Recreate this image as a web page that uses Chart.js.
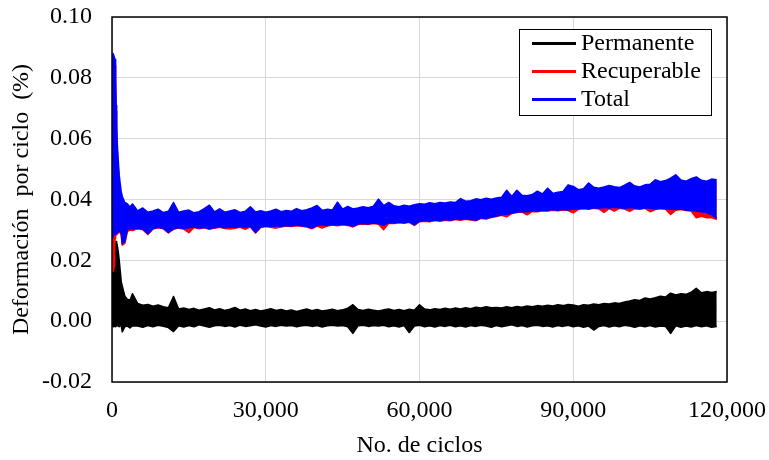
<!DOCTYPE html>
<html><head><meta charset="utf-8">
<script src="https://cdn.jsdelivr.net/npm/chart.js@4.4.0/dist/chart.umd.min.js"></script>
<style>html,body{margin:0;padding:0;background:#fff;}#wrap{width:769px;height:460px;}</style>
</head><body><div id="wrap"><canvas id="c" width="769" height="460"></canvas></div>
<script>
// ---- data ----
const cycles = [0,100,200,300,400,500,600,700,800,900,1000,1200,1400,1600,1800,2000,2500,3000,3500,4000,
5000,6000,7000,8000,9000,10000,11000,12000,13000,14000,
15000,16000,17000,18000,19000,20000,21000,22000,23000,24000,
25000,26000,27000,28000,29000,30000,31000,32000,33000,34000,
35000,36000,37000,38000,39000,40000,41000,42000,43000,44000,
45000,46000,47000,48000,49000,50000,51000,52000,53000,54000,
55000,56000,57000,58000,59000,60000,61000,62000,63000,64000,
65000,66000,67000,68000,69000,70000,71000,72000,73000,74000,
75000,76000,77000,78000,79000,80000,81000,82000,83000,84000,
85000,86000,87000,88000,89000,90000,91000,92000,93000,94000,
95000,96000,97000,98000,99000,100000,101000,102000,103000,104000,
105000,106000,107000,108000,109000,110000,111000,112000,113000,114000,
115000,116000,117000,118000];

// Total (upper / lower envelope of the band)
const totalHigh = [0.060,0.086,0.088,0.088,0.087,0.087,0.086,0.080,0.071,0.065,0.059,0.053,0.048,0.045,0.0425,0.041,0.039,0.0385,0.0375,0.0385,
0.0362,0.0372,0.0358,0.0362,0.0368,0.0357,0.0361,0.0390,0.0358,0.0362,
0.0365,0.0356,0.0360,0.0370,0.0381,0.0359,0.0369,0.0358,0.0362,0.0366,
0.0357,0.0361,0.0376,0.0359,0.0363,0.0358,0.0362,0.0368,0.0360,0.0364,
0.0361,0.0370,0.0363,0.0366,0.0372,0.0380,0.0364,0.0368,0.0365,0.0391,
0.0368,0.0377,0.0369,0.0372,0.0376,0.0373,0.0378,0.0401,0.0380,0.0390,
0.0379,0.0376,0.0381,0.0378,0.0383,0.0386,0.0384,0.0389,0.0386,0.0390,
0.0388,0.0392,0.0390,0.0403,0.0394,0.0396,0.0402,0.0399,0.0404,0.0401,
0.0405,0.0407,0.0430,0.0410,0.0430,0.0414,0.0412,0.0416,0.0427,0.0418,
0.0437,0.0420,0.0424,0.0426,0.0448,0.0443,0.0432,0.0435,0.0454,0.0440,
0.0437,0.0441,0.0446,0.0442,0.0439,0.0447,0.0456,0.0444,0.0441,0.0448,
0.0450,0.0465,0.0458,0.0462,0.0470,0.0481,0.0464,0.0460,0.0468,0.0474,
0.0463,0.0460,0.0467,0.0465];
const totalLow = [0.0270,0.0275,0.0282,0.0284,0.0285,0.0288,0.0285,0.0290,0.0288,0.0292,0.0290,0.0294,0.0298,0.0295,0.0290,0.0255,0.0262,0.0300,0.0305,0.0303,
0.0306,0.0303,0.0288,0.0305,0.0309,0.0306,0.0292,0.0304,0.0308,0.0305,
0.0307,0.0310,0.0306,0.0309,0.0304,0.0308,0.0311,0.0307,0.0310,0.0308,
0.0311,0.0309,0.0312,0.0292,0.0310,0.0313,0.0311,0.0314,0.0312,0.0315,
0.0313,0.0316,0.0314,0.0312,0.0306,0.0315,0.0317,0.0315,0.0318,0.0316,
0.0319,0.0317,0.0312,0.0320,0.0322,0.0320,0.0323,0.0321,0.0315,0.0324,
0.0323,0.0326,0.0324,0.0327,0.0317,0.0329,0.0331,0.0329,0.0333,0.0331,
0.0334,0.0332,0.0336,0.0334,0.0337,0.0335,0.0332,0.0340,0.0338,0.0343,
0.0346,0.0350,0.0352,0.0356,0.0359,0.0361,0.0360,0.0363,0.0362,0.0365,
0.0364,0.0367,0.0365,0.0368,0.0366,0.0369,0.0370,0.0372,0.0370,0.0373,
0.0371,0.0374,0.0372,0.0375,0.0373,0.0371,0.0374,0.0372,0.0370,0.0373,
0.0371,0.0369,0.0372,0.0370,0.0368,0.0367,0.0369,0.0366,0.0364,0.0362,
0.0360,0.0357,0.0350,0.0338];

// Recuperable
const recHigh = [0.058,0.084,0.086,0.086,0.085,0.085,0.084,0.078,0.069,0.063,0.057,0.051,0.046,0.043,0.041,0.040,0.038,0.0378,0.0368,0.0376,
0.0356,0.0362,0.0353,0.0357,0.0360,0.0352,0.0356,0.0375,0.0353,0.0357,
0.0358,0.0351,0.0355,0.0362,0.0370,0.0354,0.0361,0.0353,0.0357,0.0360,
0.0352,0.0356,0.0368,0.0354,0.0358,0.0353,0.0357,0.0362,0.0355,0.0359,
0.0356,0.0363,0.0358,0.0361,0.0366,0.0372,0.0359,0.0363,0.0360,0.0378,
0.0363,0.0370,0.0364,0.0367,0.0370,0.0368,0.0372,0.0390,0.0374,0.0382,
0.0374,0.0371,0.0375,0.0373,0.0377,0.0380,0.0379,0.0383,0.0381,0.0384,
0.0383,0.0386,0.0385,0.0394,0.0388,0.0391,0.0395,0.0393,0.0397,0.0395,
0.0399,0.0401,0.0418,0.0404,0.0419,0.0408,0.0406,0.0410,0.0418,0.0412,
0.0426,0.0414,0.0418,0.0420,0.0436,0.0432,0.0426,0.0428,0.0442,0.0433,
0.0431,0.0434,0.0439,0.0435,0.0433,0.0440,0.0445,0.0437,0.0435,0.0441,
0.0443,0.0454,0.0450,0.0453,0.0459,0.0468,0.0455,0.0452,0.0458,0.0463,
0.0455,0.0452,0.0458,0.0456];
const recLow = [0.0163,0.0163,0.0165,0.0168,0.0180,0.0240,0.0272,0.0280,0.0284,0.0286,0.0286,0.0290,0.0293,0.0290,0.0285,0.0250,0.0256,0.0295,0.0300,0.0298,
0.0304,0.0301,0.0285,0.0303,0.0307,0.0304,0.0290,0.0302,0.0306,0.0303,
0.0291,0.0308,0.0304,0.0307,0.0302,0.0306,0.0309,0.0305,0.0303,0.0306,
0.0309,0.0302,0.0310,0.0290,0.0308,0.0311,0.0309,0.0306,0.0310,0.0313,
0.0311,0.0314,0.0312,0.0310,0.0304,0.0313,0.0306,0.0313,0.0316,0.0314,
0.0317,0.0315,0.0310,0.0318,0.0320,0.0318,0.0321,0.0319,0.0301,0.0322,
0.0321,0.0324,0.0322,0.0325,0.0315,0.0327,0.0329,0.0327,0.0331,0.0329,
0.0332,0.0330,0.0334,0.0332,0.0335,0.0333,0.0330,0.0338,0.0336,0.0341,
0.0344,0.0348,0.0343,0.0354,0.0357,0.0359,0.0350,0.0361,0.0360,0.0363,
0.0362,0.0365,0.0363,0.0366,0.0364,0.0356,0.0368,0.0370,0.0368,0.0371,
0.0369,0.0358,0.0370,0.0362,0.0371,0.0369,0.0361,0.0370,0.0368,0.0371,
0.0360,0.0367,0.0370,0.0368,0.0351,0.0365,0.0367,0.0364,0.0362,0.0340,
0.0345,0.0340,0.0341,0.0334];

// Permanente
const permHigh = [0.0163,0.0163,0.0163,0.0163,0.0163,0.0165,0.0200,0.0250,0.0262,0.0258,0.0250,0.0230,0.0200,0.0165,0.0130,0.0115,0.0082,0.0072,0.0068,0.0090,
0.0058,0.0052,0.0055,0.0049,0.0053,0.0047,0.0044,0.0081,0.0040,0.0043,
0.0038,0.0042,0.0036,0.0040,0.0044,0.0037,0.0041,0.0035,0.0039,0.0045,
0.0036,0.0040,0.0034,0.0038,0.0033,0.0037,0.0041,0.0035,0.0038,0.0033,
0.0037,0.0032,0.0036,0.0040,0.0034,0.0038,0.0033,0.0036,0.0039,0.0034,
0.0037,0.0042,0.0054,0.0038,0.0035,0.0039,0.0036,0.0033,0.0037,0.0040,
0.0035,0.0038,0.0034,0.0039,0.0036,0.0054,0.0040,0.0037,0.0041,0.0038,
0.0042,0.0039,0.0043,0.0040,0.0044,0.0041,0.0046,0.0043,0.0047,0.0044,
0.0045,0.0043,0.0047,0.0044,0.0048,0.0046,0.0050,0.0047,0.0051,0.0049,
0.0052,0.0050,0.0054,0.0051,0.0055,0.0053,0.0049,0.0054,0.0052,0.0056,
0.0054,0.0058,0.0056,0.0060,0.0058,0.0063,0.0066,0.0070,0.0068,0.0076,
0.0073,0.0077,0.0082,0.0079,0.0092,0.0086,0.0090,0.0088,0.0095,0.0108,
0.0093,0.0097,0.0094,0.0097];
const permLow = [-0.0005,-0.0010,-0.0018,-0.0015,-0.0012,-0.0015,-0.0018,-0.0014,-0.0016,-0.0012,-0.0016,-0.0014,-0.0018,-0.0015,-0.0013,-0.0035,-0.0018,-0.0016,-0.0022,-0.0015,
-0.0016,-0.0020,-0.0014,-0.0018,-0.0013,-0.0017,-0.0021,-0.0034,-0.0015,-0.0019,
-0.0014,-0.0018,-0.0012,-0.0016,-0.0020,-0.0015,-0.0013,-0.0017,-0.0014,-0.0019,
-0.0013,-0.0017,-0.0015,-0.0012,-0.0016,-0.0019,-0.0014,-0.0017,-0.0013,-0.0016,
-0.0014,-0.0018,-0.0015,-0.0013,-0.0017,-0.0014,-0.0019,-0.0015,-0.0013,-0.0016,
-0.0014,-0.0018,-0.0040,-0.0015,-0.0013,-0.0017,-0.0014,-0.0016,-0.0013,-0.0018,
-0.0015,-0.0019,-0.0014,-0.0037,-0.0016,-0.0013,-0.0018,-0.0015,-0.0019,-0.0014,
-0.0017,-0.0013,-0.0018,-0.0015,-0.0019,-0.0014,-0.0017,-0.0013,-0.0016,-0.0020,
-0.0014,-0.0018,-0.0015,-0.0012,-0.0017,-0.0014,-0.0019,-0.0015,-0.0013,-0.0017,
-0.0015,-0.0019,-0.0014,-0.0017,-0.0013,-0.0018,-0.0015,-0.0020,-0.0016,-0.0029,
-0.0017,-0.0014,-0.0019,-0.0015,-0.0018,-0.0013,-0.0016,-0.0020,-0.0015,-0.0018,
-0.0014,-0.0019,-0.0016,-0.0017,-0.0040,-0.0015,-0.0020,-0.0016,-0.0019,-0.0014,
-0.0018,-0.0015,-0.0020,-0.0017];

const seriesNames = ['Permanente', 'Recuperable', 'Total'];
const seriesColors = ['#000000', '#FF0000', '#0000FF'];
const xTickLabels = ['0', '30,000', '60,000', '90,000', '120,000'];
const yTickLabels = ['-0.02', '0.00', '0.02', '0.04', '0.06', '0.08', '0.10'];
const xTitle = 'No. de ciclos';
const yTitle = 'Deformación  por ciclo  (%)';

// ---- chart ----
const FONT = '"Liberation Serif", "Times New Roman", "DejaVu Serif", serif';
const pts = arr => cycles.map((c, i) => ({x: c, y: arr[i]}));
function band(name, color, hi, lo) {
  const common = {borderColor: color, backgroundColor: color, borderWidth: 1.6, pointRadius: 0,
                  pointHoverRadius: 0, tension: 0, borderJoinStyle: 'round'};
  return [
    Object.assign({label: name, data: pts(hi), fill: '+1'}, common),
    Object.assign({label: name + ' (min)', data: pts(lo), fill: false}, common)
  ];
}
// dataset 0 is painted last (on top): Total over Recuperable over Permanente
const datasets = [].concat(
  band(seriesNames[2], seriesColors[2], totalHigh, totalLow),
  band(seriesNames[1], seriesColors[1], recHigh, recLow),
  band(seriesNames[0], seriesColors[0], permHigh, permLow)
);

const frameAndLegend = {
  id: 'frameAndLegend',
  afterDatasetsDraw(chart) {
    const {ctx, chartArea: a} = chart;
    ctx.save();
    ctx.strokeStyle = '#000';
    ctx.lineWidth = 1.5;
    ctx.strokeRect(a.left, a.top, a.right - a.left, a.bottom - a.top);
    // legend
    const bx = a.right - 208, by = a.top + 12, bw = 192, bh = 86;
    ctx.fillStyle = '#fff';
    ctx.fillRect(bx, by, bw, bh);
    ctx.strokeStyle = '#000';
    ctx.lineWidth = 1;
    ctx.strokeRect(bx + 0.5, by + 0.5, bw, bh);
    ctx.font = '24px ' + FONT;
    ctx.textBaseline = 'middle';
    ctx.textAlign = 'left';
    seriesNames.forEach((n, i) => {
      const y = by + 14.5 + i * 28;
      ctx.strokeStyle = seriesColors[i];
      ctx.lineWidth = 3;
      ctx.beginPath();
      ctx.moveTo(bx + 13, y);
      ctx.lineTo(bx + 57, y);
      ctx.stroke();
      ctx.fillStyle = '#000';
      ctx.fillText(n, bx + 62, y);
    });
    ctx.restore();
  }
};

new Chart(document.getElementById('c'), {
  type: 'line',
  data: {datasets},
  options: {
    responsive: false,
    animation: false,
    devicePixelRatio: 1,
    layout: {padding: {left: 0, top: 17, right: 42, bottom: 0}},
    plugins: {legend: {display: false}, tooltip: {enabled: false}},
    scales: {
      x: {
        type: 'linear', min: 0, max: 120000,
        afterFit: s => { s.height = 78; s.paddingLeft = 0; s.paddingRight = 0; },
        grid: {color: '#d9d9d9', lineWidth: 1, drawTicks: false},
        border: {display: false},
        ticks: {stepSize: 30000, padding: 14, color: '#000', maxRotation: 0,
                font: {family: FONT, size: 24},
                callback: (v, i) => xTickLabels[i]},
        title: {display: true, text: xTitle, color: '#000', padding: {top: 0, bottom: 0},
                font: {family: FONT, size: 24}}
      },
      y: {
        type: 'linear', min: -0.02, max: 0.10,
        afterFit: s => { s.width = 112; s.paddingTop = 0; s.paddingBottom = 0; },
        grid: {color: '#d9d9d9', lineWidth: 1, drawTicks: false},
        border: {display: false},
        ticks: {stepSize: 0.02, padding: 20, color: '#000',
                font: {family: FONT, size: 24},
                callback: (v, i) => yTickLabels[i]},
        title: {display: true, text: yTitle, color: '#000', padding: {top: 7, bottom: 0},
                font: {family: FONT, size: 24}}
      }
    }
  },
  plugins: [frameAndLegend]
});
</script>
</body></html>
